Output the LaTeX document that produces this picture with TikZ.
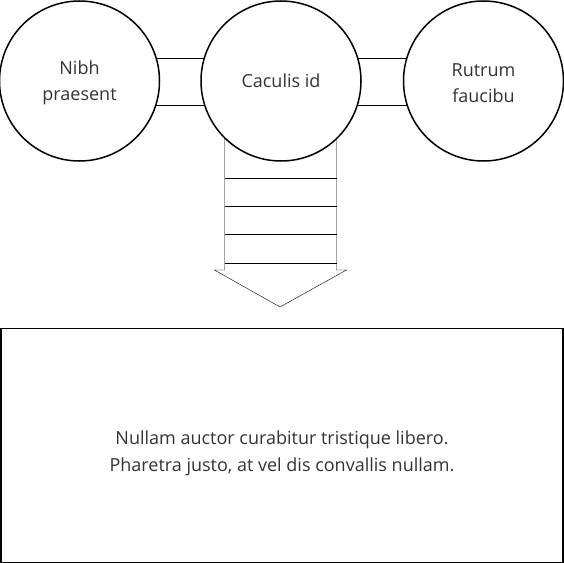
\documentclass[tikz,border=0pt]{standalone}
\usepackage{fontspec}
\setmainfont{Open Sans}
\usetikzlibrary{positioning,calc,backgrounds}
\definecolor{textgray}{HTML}{333333}

\begin{document}
\begin{tikzpicture}[x=1pt, y=-1pt, line width=1.5pt,
         ball/.style = {circle, draw, fill=white, minimum size=160pt,
         inner sep=0pt, align=center, text=textgray,
         font=\fontsize{18}{26}\selectfont},
         bigbox/.style = {rectangle, draw, minimum width=562pt,
         minimum height=234pt, align=center, text=textgray,
         font=\fontsize{18}{27}\selectfont},
         band/.style = {line width=1.5pt}]

   \useasboundingbox (0,0) rectangle (564,562);

   % the three balls
   \node[ball] (caculis) at (281,81) {Caculis id};
   \node[ball, left=40pt of caculis]  (nibh)   {\rule{0pt}{17pt}Nibh\\praesent};
   \node[ball, right=41pt of caculis] (rutrum) {\rule{0pt}{17pt}Rutrum\\faucibu};

   % text box
   \node[bigbox, below=166pt of caculis, xshift=1pt] (box)
      {\rule{0pt}{29pt}Nullam auctor curabitur tristique libero.\\
       Pharetra justo, at vel dis convallis nullam.};

   \begin{scope}[on background layer, band]
      % bands between the balls
      \draw ($(nibh.center)+(0,-23)$) -- ($(caculis.center)+(0,-23)$);
      \draw ($(nibh.center)+(0,24)$)  -- ($(caculis.center)+(0,24)$);
      \draw ($(caculis.center)+(0,-23)$) -- ($(rutrum.center)+(0,-23)$);
      \draw ($(caculis.center)+(0,24)$)  -- ($(rutrum.center)+(0,24)$);

      % striped arrow down to the box
      \coordinate (tip) at ($(caculis.center)+(-1,226)$);
      \draw[fill=white] ($(caculis.center)+(-56.5,40)$) -- ++(0,149)
         -- ++(-10,0) -- (tip) -- ($(caculis.center)+(65.5,189)$)
         -- ++(-10,0) -- ++(0,-149);
      \foreach \k in {0,...,3}
         \draw ($(caculis.center)+(-56.5,97+28.33*\k)$) -- ++(112,0);
   \end{scope}

\end{tikzpicture}
\end{document}
